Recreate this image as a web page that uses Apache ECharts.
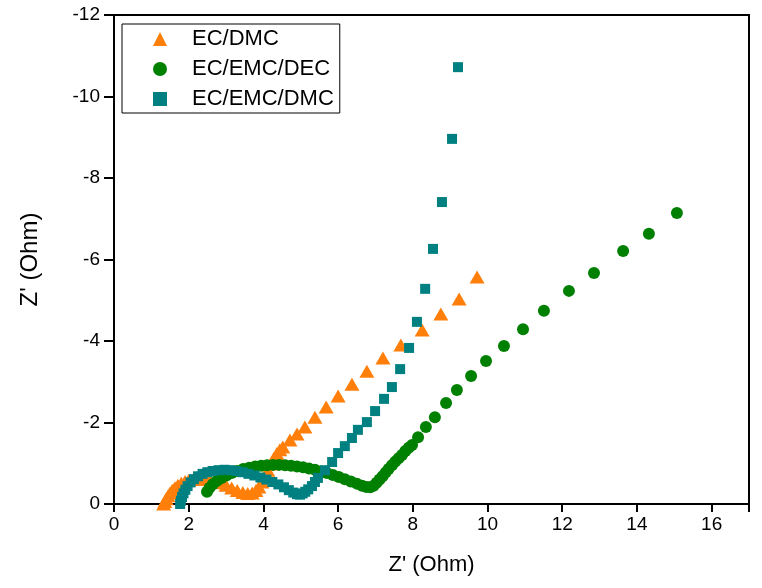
<!DOCTYPE html>
<html>
<head>
<meta charset="utf-8">
<script src="https://cdn.jsdelivr.net/npm/echarts@6/dist/echarts.min.js"></script>
<style>html,body{margin:0;padding:0;background:#fff}#c{width:762px;height:588px}</style>
</head>
<body>
<div id="c"></div>
<script>
var seriesNames = ['EC/DMC', 'EC/EMC/DEC', 'EC/EMC/DMC'];
var xTicks = [0, 2, 4, 6, 8, 10, 12, 14, 16];
var yTicks = [0, -2, -4, -6, -8, -10, -12];

var ecDmc = [[1.33,0],[1.36,-0.06],[1.40,-0.13],[1.45,-0.2],[1.5,-0.27],[1.56,-0.34],[1.63,-0.4],[1.71,-0.46],[1.8,-0.51],[1.9,-0.55],[2.0,-0.58],[2.12,-0.6],[2.25,-0.61],[2.4,-0.61],[2.55,-0.6],[2.7,-0.57],[2.85,-0.52],[3.0,-0.46],[3.15,-0.39],[3.3,-0.33],[3.45,-0.28],[3.58,-0.26],[3.7,-0.27],[3.8,-0.33],[3.88,-0.42],[3.96,-0.54],[4.04,-0.68],[4.12,-0.83],[4.2,-0.98],[4.28,-1.12],[4.36,-1.24],[4.44,-1.33],[4.52,-1.40],[4.71,-1.57],[4.90,-1.72],[5.11,-1.89],[5.38,-2.13],[5.68,-2.38],[6.00,-2.65],[6.37,-2.94],[6.77,-3.26],[7.20,-3.58],[7.68,-3.90],[8.25,-4.27],[8.75,-4.66],[9.24,-5.03],[9.72,-5.57]];

var ecEmcDec = [[2.49,-0.3],[2.56,-0.4],[2.65,-0.49],[2.76,-0.57],[2.88,-0.64],[3.01,-0.7],[3.15,-0.76],[3.3,-0.81],[3.46,-0.86],[3.62,-0.89],[3.78,-0.92],[3.94,-0.94],[4.1,-0.95],[4.26,-0.96],[4.42,-0.96],[4.58,-0.95],[4.74,-0.94],[4.9,-0.92],[5.06,-0.9],[5.22,-0.87],[5.38,-0.84],[5.54,-0.8],[5.7,-0.76],[5.86,-0.71],[6.02,-0.66],[6.18,-0.61],[6.34,-0.55],[6.5,-0.5],[6.64,-0.45],[6.76,-0.42],[6.86,-0.41],[6.95,-0.45],[7.03,-0.52],[7.11,-0.6],[7.19,-0.68],[7.27,-0.77],[7.35,-0.86],[7.44,-0.95],[7.53,-1.04],[7.62,-1.12],[7.71,-1.2],[7.8,-1.3],[7.89,-1.38],[7.98,-1.45],[8.14,-1.64],[8.35,-1.89],[8.59,-2.13],[8.89,-2.48],[9.18,-2.80],[9.56,-3.14],[9.96,-3.51],[10.44,-3.88],[10.95,-4.29],[11.51,-4.74],[12.18,-5.23],[12.85,-5.67],[13.63,-6.21],[14.32,-6.63],[15.07,-7.14]];

var ecEmcDmc = [[1.77,0],[1.79,-0.08],[1.82,-0.17],[1.86,-0.26],[1.91,-0.35],[1.97,-0.44],[2.05,-0.53],[2.14,-0.61],[2.25,-0.68],[2.37,-0.74],[2.5,-0.78],[2.64,-0.81],[2.8,-0.83],[2.96,-0.84],[3.12,-0.83],[3.28,-0.81],[3.44,-0.78],[3.6,-0.74],[3.76,-0.7],[3.92,-0.65],[4.08,-0.6],[4.24,-0.54],[4.4,-0.48],[4.55,-0.41],[4.68,-0.34],[4.8,-0.28],[4.9,-0.24],[4.98,-0.23],[5.05,-0.26],[5.12,-0.3],[5.2,-0.36],[5.30,-0.44],[5.38,-0.54],[5.46,-0.64],[5.65,-0.83],[5.84,-1.03],[6.00,-1.25],[6.18,-1.42],[6.37,-1.62],[6.53,-1.82],[6.77,-2.01],[6.99,-2.28],[7.23,-2.58],[7.44,-2.87],[7.66,-3.31],[7.90,-3.83],[8.11,-4.47],[8.33,-5.28],[8.54,-6.26],[8.78,-7.41],[9.05,-8.96],[9.21,-10.72]];

var FONT = '"Liberation Sans", Arial, sans-serif';
var chart = echarts.init(document.getElementById('c'), null, {renderer: 'canvas'});
chart.setOption({
  animation: false,
  backgroundColor: '#fff',
  grid: {left: 114, top: 15, right: 13, bottom: 84, show: true, borderColor: '#000', borderWidth: 2, backgroundColor: 'transparent'},
  legend: {
    orient: 'vertical', left: 122, top: 24,
    borderColor: '#000', borderWidth: 1, backgroundColor: '#fff',
    padding: [3, 6, 2, 31], itemGap: 6, itemWidth: 14, itemHeight: 14,
    textStyle: {fontFamily: FONT, fontSize: 22, color: '#000', lineHeight: 24, padding: [0, 0, 0, 20]},
    data: [
      {name: seriesNames[0], icon: 'triangle'},
      {name: seriesNames[1], icon: 'circle'},
      {name: seriesNames[2], icon: 'rect'}
    ],
    selectedMode: false
  },
  xAxis: {
    type: 'value', min: 0, max: 17, interval: 2,
    name: "Z' (Ohm)", nameLocation: 'middle', nameGap: 50,
    nameTextStyle: {fontFamily: FONT, fontSize: 22, color: '#000'},
    axisLine: {show: true, onZero: false, lineStyle: {color: '#000', width: 2}},
    axisTick: {show: true, inside: false, length: 8, lineStyle: {color: '#000', width: 2}},
    axisLabel: {fontFamily: FONT, fontSize: 19, color: '#000', margin: 11,
      formatter: function (v) { return xTicks.indexOf(v) >= 0 ? String(v) : ''; }},
    splitLine: {show: false}
  },
  yAxis: {
    type: 'value', min: -12, max: 0, interval: 2, inverse: true,
    name: "Z' (Ohm)", nameLocation: 'middle', nameGap: 72, nameRotate: 90,
    nameTextStyle: {fontFamily: FONT, fontSize: 24, color: '#000'},
    axisLine: {show: true, onZero: false, lineStyle: {color: '#000', width: 2}},
    axisTick: {show: true, inside: false, length: 10, lineStyle: {color: '#000', width: 2}},
    axisLabel: {fontFamily: FONT, fontSize: 19, color: '#000', margin: 14,
      formatter: function (v) { return yTicks.indexOf(v) >= 0 ? String(v) : ''; }},
    splitLine: {show: false}
  },
  series: [
    {name: seriesNames[0], type: 'scatter', data: ecDmc, symbol: 'triangle', symbolSize: [15, 13],
      itemStyle: {color: '#FF7F0A', opacity: 1}, emphasis: {disabled: true}, z: 2},
    {name: seriesNames[1], type: 'scatter', data: ecEmcDec, symbol: 'circle', symbolSize: 12,
      itemStyle: {color: '#008000', opacity: 1}, emphasis: {disabled: true}, z: 3},
    {name: seriesNames[2], type: 'scatter', data: ecEmcDmc, symbol: 'rect', symbolSize: 10,
      itemStyle: {color: '#008080', opacity: 1}, emphasis: {disabled: true}, z: 4}
  ]
});
</script>
</body>
</html>
